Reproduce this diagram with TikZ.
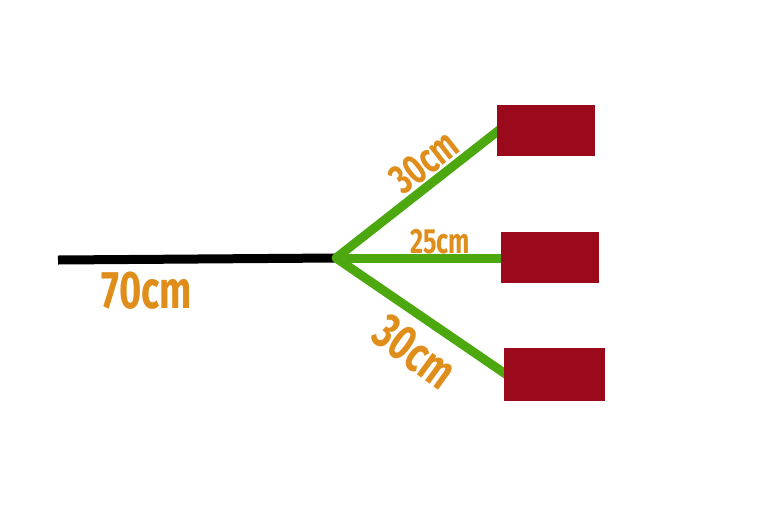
\documentclass[tikz,border=0pt]{standalone}
\usepackage{fontspec}
\setmainfont{Fira Sans}
\usetikzlibrary{backgrounds}
\definecolor{boxred}{HTML}{9A0A1C}
\definecolor{wiregreen}{HTML}{4CA80E}
\definecolor{labelorange}{HTML}{E08E1B}
\newcommand{\lbl}[2]{\scalebox{0.72}[1]{\fontsize{#1}{#1}\selectfont\bfseries #2}}
\begin{document}
\begin{tikzpicture}[x=1pt,y=-1pt,
  target/.style={fill=boxred, draw=none, inner sep=0pt, anchor=north west},
  mainwire/.style={line width=9pt, black},
  branch/.style={line width=9pt, wiregreen},
  lab/.style={text=labelorange, inner sep=0pt}]
\useasboundingbox (0,0) rectangle (778,520);
\node[target, minimum width=98pt, minimum height=51pt] (b1) at (497,105) {};
\node[target, minimum width=98pt, minimum height=51pt] (b2) at (501,232) {};
\node[target, minimum width=101pt, minimum height=53pt] (b3) at (504,348) {};
\coordinate (start) at (58,260);
\coordinate (hub) at (336,258);
\begin{scope}[on background layer]
\fill[white] (0,0) rectangle (778,520);
\draw[mainwire] (start) -- (hub);
\draw[branch] (hub) -- ([xshift=6pt]b1.west |- 0,127);
\draw[branch] (hub) -- ([xshift=6pt]b2.west |- 0,258);
\draw[branch] (hub) -- ([xshift=6pt]b3.west |- 0,377);
\fill[wiregreen] (hub) circle (4.5pt);
\end{scope}
\node[lab] (l70) at (147,291) {\lbl{53pt}{70cm}};
\node[lab] (l25) at (440,242) {\lbl{35pt}{25cm}};
\node[lab, rotate=38] (l30a) at (424,162) {\lbl{42pt}{30cm}};
\node[lab, rotate=-36] (l30b) at (415,352) {\lbl{50pt}{30cm}};
\end{tikzpicture}
\end{document}
